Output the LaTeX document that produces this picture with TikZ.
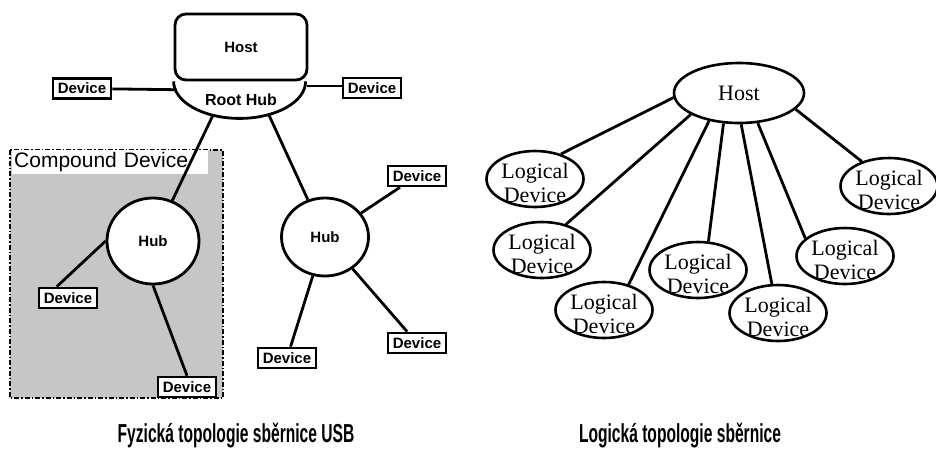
\documentclass[tikz,border=0pt]{standalone}
\usepackage{fontspec}
\setmainfont{Liberation Sans}
\newfontfamily\romanface{Liberation Serif}
\newfontfamily\captionface[FakeStretch=0.6]{Liberation Sans}
\usetikzlibrary{positioning,shapes,calc}

\tikzset{
  device/.style={draw,fill=white,line width=2.6pt,minimum width=58pt,minimum height=20pt,inner sep=1pt,font=\fontsize{15}{17}\selectfont\bfseries},
  hub/.style={shape=ellipse,draw,fill=white,line width=2.8pt,inner sep=0pt,font=\fontsize{15}{17}\selectfont\bfseries},
  logdev/.style={shape=ellipse,draw,fill=white,line width=2.6pt,minimum width=97pt,minimum height=56pt,inner sep=0pt},
  ldtext/.style={font=\romanface\fontsize{22}{24}\selectfont,align=center,inner sep=0pt,yshift=-4pt},
  link/.style={line width=2.8pt},
  caption/.style={font=\captionface\fontsize{26}{28}\selectfont\bfseries}
}

\begin{document}
\begin{tikzpicture}[x=1pt,y=1pt]
\useasboundingbox (0,0) rectangle (936,-456);
\fill[gray!45] (10,-150) rectangle (223,-398);
\draw[line width=1.4pt,dash pattern=on 5pt off 2pt on 1.5pt off 2pt] (10,-150) rectangle (223,-398);
\node[fill=white,anchor=north west,text width=192pt,minimum height=23pt,inner sep=2pt,font=\fontsize{21}{23}\selectfont] (cd) at (12,-150) {Compound Device};

\node[draw,fill=white,rounded corners=11pt,line width=2.8pt,minimum width=132pt,minimum height=66pt,font=\fontsize{15}{17}\selectfont\bfseries] (host) at (241,-47) {Host};
\draw[line width=2.8pt] (host.south west) arc[start angle=180,end angle=360,x radius=66pt,y radius=37pt];
\node[below=12pt of host.south,inner sep=0pt,font=\fontsize{16}{18}\selectfont\bfseries] (roothub) {Root Hub};
\coordinate (rh) at (host.south);
\coordinate (rh-w) at ($(rh)+(193:66 and 37)$);
\coordinate (rh-e) at ($(rh)+(353:66 and 37)$);
\coordinate (rh-sw) at ($(rh)+(245:66 and 37)$);
\coordinate (rh-se) at ($(rh)+(295:66 and 37)$);

\node[device] (dl) at (82,-88.5) {Device};
\node[device] (dr) at (372,-88) {Device};
\node[hub,minimum width=92pt,minimum height=86pt] (hubl) at (153,-241) {Hub};
\node[hub,minimum width=87pt,minimum height=78pt] (hubr) at (325,-237) {Hub};
\node[device] (d1) at (68,-298) {Device};
\node[device] (d2) at (187,-387) {Device};
\node[device] (d3) at (417,-176) {Device};
\node[device] (d4) at (287,-358) {Device};
\node[device] (d5) at (417,-343) {Device};

\draw[link] (dl) -- (rh-w);
\draw[link] (rh-e) -- (dr.west |- rh-e);
\draw[link] (rh-sw) -- (hubl);
\draw[link] (rh-se) -- (hubr);
\draw[link] (hubl.west) -- (d1.135);
\draw[link] (hubl.south) -- (d2.north);
\draw[link] (hubr) -- (d3);
\draw[link] (hubr) -- (d4);
\draw[link] (hubr) -- (d5);

\node[shape=ellipse,draw,line width=2.6pt,minimum width=130pt,minimum height=60pt,inner sep=0pt,font=\romanface\fontsize{22}{24}\selectfont] (lhost) at (739,-93) {Host};
\node[logdev,label={[ldtext]center:Logical\\Device}] (ld1) at (535,-179) {};
\node[logdev,label={[ldtext]center:Logical\\Device}] (ld2) at (542,-250) {};
\node[logdev,label={[ldtext]center:Logical\\Device}] (ld3) at (604,-310) {};
\node[logdev,label={[ldtext]center:Logical\\Device}] (ld4) at (698,-270) {};
\node[logdev,label={[ldtext]center:Logical\\Device}] (ld5) at (778,-313) {};
\node[logdev,label={[ldtext]center:Logical\\Device}] (ld6) at (845,-256) {};
\node[logdev,label={[ldtext]center:Logical\\Device}] (ld7) at (889,-186) {};

\draw[link] (lhost.184) -- (ld1.44);
\draw[link] (lhost.204) -- (ld2.47);
\draw[link] (lhost.223) -- (ld3.46);
\draw[link] (lhost.243) -- (ld4.70);
\draw[link] (lhost.274) -- (ld5.102);
\draw[link] (lhost.302) -- (ld6.156);
\draw[link] (lhost.344) -- (ld7.138);

\node[caption] (physcap) at (236,-436) {Fyzická topologie sběrnice USB};
\node[caption] (logcap) at (680,-436) {Logická topologie sběrnice};
\end{tikzpicture}
\end{document}
